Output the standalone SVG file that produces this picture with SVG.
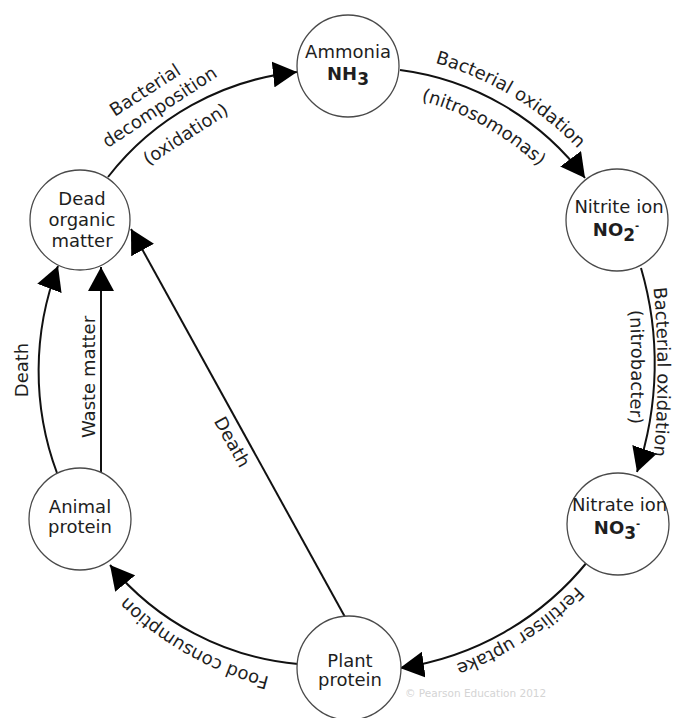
<svg xmlns="http://www.w3.org/2000/svg" width="676" height="718" viewBox="0 0 676 718">
<style>
text{font-family:"DejaVu Sans","Liberation Sans",sans-serif;font-size:18px;fill:#1e1e1e}
.b{font-weight:bold}
.node circle{fill:#fff;stroke:#4a4a4a;stroke-width:1.3}
.conn path{fill:none;stroke:#111;stroke-width:2;marker-end:url(#ah)}
.wm{font-size:10.5px;fill:#d4d4d4}
</style>
<defs>
<marker id="ah" markerWidth="24" markerHeight="26" refX="24" refY="13" orient="auto" markerUnits="userSpaceOnUse" viewBox="0 0 24 26"><path d="M0,0 L24,13 L0,26 z" fill="#000"/></marker>
<path id="t1" d="M272.3,60.4 A317,317 0 0 1 656.6,291.3"/>
<path id="t2" d="M273.6,101.5 A277,277 0 0 1 615.5,292.6"/>
<path id="t3" d="M641,200 A903,903 0 0 1 641,544"/>
<path id="t4" d="M613,186 A903,903 0 0 1 613,548"/>
<path id="t5" d="M657.1,433.5 A315,315 0 0 1 283.5,676.1"/>
<path id="t6" d="M435.3,675.1 A319,319 0 0 1 41.9,454.3"/>
</defs>
<rect width="676" height="718" fill="#fff"/>
<g id="connectors" class="conn">
<path d="M108,177 A275,275 0 0 1 297,72"/>
<path d="M400,70 A275,275 0 0 1 585,178"/>
<path d="M641,268 A340,340 0 0 1 637,472"/>
<path d="M588,561 A295,295 0 0 1 400,668"/>
<path d="M298,664 A275,275 0 0 1 110,565"/>
<path d="M57,473 A293,293 0 0 1 58,266"/>
<path d="M101,472 L101,267"/>
<path d="M345,617 L131,229"/>
</g>
<g id="labels">
<g transform="translate(167,113) rotate(-33)">
<text x="-6" y="-25" text-anchor="middle">Bacterial</text>
<text x="-3" y="-3" text-anchor="middle">decomposition</text>
<text x="4" y="34" text-anchor="middle">(oxidation)</text>
</g>
<text><textPath href="#t1" startOffset="50%" text-anchor="middle">Bacterial oxidation</textPath></text>
<text><textPath href="#t2" startOffset="50%" text-anchor="middle">(nitrosomonas)</textPath></text>
<text><textPath href="#t3" startOffset="50%" text-anchor="middle">Bacterial oxidation</textPath></text>
<text><textPath href="#t4" startOffset="50%" text-anchor="middle">(nitrobacter)</textPath></text>
<text><textPath href="#t5" startOffset="50%" text-anchor="middle">Fertiliser uptake</textPath></text>
<text><textPath href="#t6" startOffset="50%" text-anchor="middle">Food consumption</textPath></text>
<text transform="translate(22,370) rotate(-90)" y="6" text-anchor="middle">Death</text>
<text transform="translate(89,377) rotate(-90)" y="6" text-anchor="middle">Waste matter</text>
<text transform="translate(232,442) rotate(61)" y="6" text-anchor="middle">Death</text>
<text class="wm" x="405" y="697">© Pearson Education 2012</text>
</g>
<g id="ammonia" class="node">
<circle cx="348" cy="66" r="51"/>
<text x="348" y="58" text-anchor="middle">Ammonia</text>
<text class="b" x="348" y="80" text-anchor="middle">NH<tspan dy="5" font-size="17">3</tspan></text>
</g>
<g id="nitrite" class="node">
<circle cx="617" cy="220" r="51"/>
<text x="619" y="213" text-anchor="middle">Nitrite ion</text>
<text class="b" x="616" y="236" text-anchor="middle">NO<tspan dy="5" font-size="17">2</tspan><tspan dy="-12" font-size="10">-</tspan></text>
</g>
<g id="nitrate" class="node">
<circle cx="618" cy="524" r="51"/>
<text x="619.5" y="511" text-anchor="middle">Nitrate ion</text>
<text class="b" x="617" y="534" text-anchor="middle">NO<tspan dy="5" font-size="17">3</tspan><tspan dy="-12" font-size="10">-</tspan></text>
</g>
<g id="plant" class="node">
<circle cx="349" cy="668" r="52"/>
<text x="350" y="667" text-anchor="middle">Plant</text>
<text x="350" y="686" text-anchor="middle">protein</text>
</g>
<g id="animal" class="node">
<circle cx="80" cy="519" r="51"/>
<text x="80" y="513" text-anchor="middle">Animal</text>
<text x="80" y="533" text-anchor="middle">protein</text>
</g>
<g id="dead" class="node">
<circle cx="80" cy="220" r="50"/>
<text x="82" y="205" text-anchor="middle">Dead</text>
<text x="82" y="226" text-anchor="middle">organic</text>
<text x="82" y="247" text-anchor="middle">matter</text>
</g>
</svg>
